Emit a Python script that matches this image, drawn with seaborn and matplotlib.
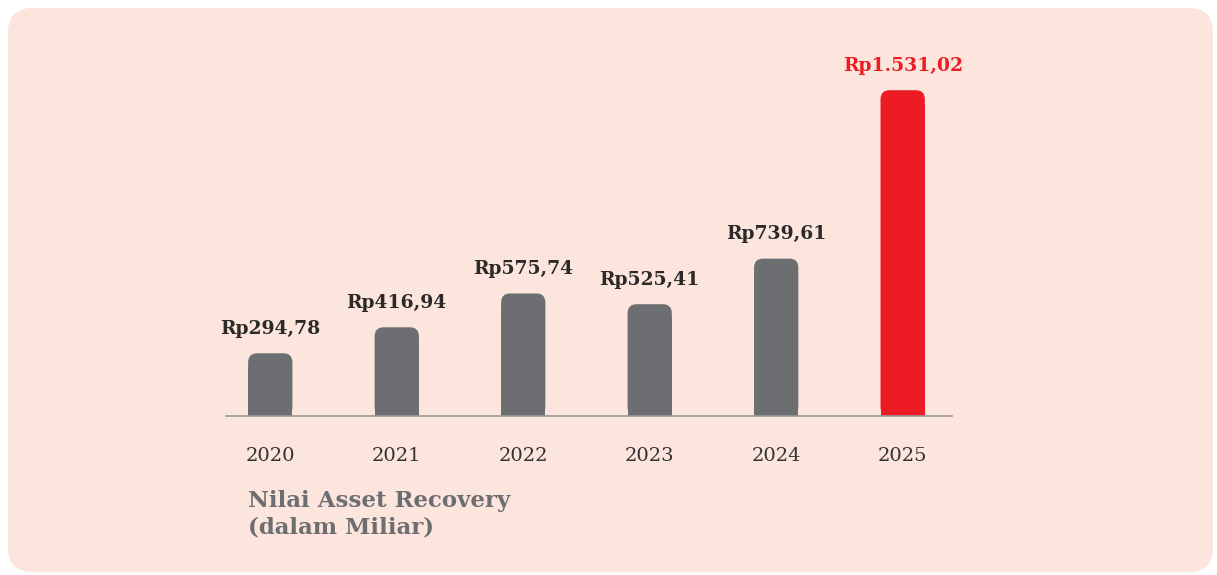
import matplotlib
matplotlib.use("Agg")
import matplotlib.pyplot as plt
from matplotlib.patches import FancyBboxPatch
import pandas as pd
import seaborn as sns

years = ["2020", "2021", "2022", "2023", "2024", "2025"]
values = [294.78, 416.94, 575.74, 525.41, 739.61, 1531.02]
labels = ["Rp294,78", "Rp416,94", "Rp575,74", "Rp525,41", "Rp739,61", "Rp1.531,02"]

gray = "#6d6e71"
red = "#ed1c24"
panel = "#fce5dc"
colors = [gray] * 5 + [red]

sns.set_theme(style="white")
plt.rcParams["font.family"] = ["DejaVu Serif"]

df = pd.DataFrame({"year": years, "value": values})

W, H = 1217, 575
fig = plt.figure(figsize=(W / 100, H / 100), dpi=100)
fig.patch.set_facecolor("white")

# peach rounded background panel (image rows 8..572)
bg = FancyBboxPatch((8 / W, 3 / H), (1213 - 8) / W, (572 - 8) / H,
                    boxstyle="round,pad=0,rounding_size=0.02",
                    mutation_aspect=W / H,
                    transform=fig.transFigure, facecolor=panel, edgecolor="none", zorder=-5)
fig.patches.append(bg)

ax = fig.add_axes([226 / W, 1 - 416 / H, (952 - 226) / W, (416 - 40) / H])
ax.set_facecolor("none")
ax.set_zorder(2)

sns.barplot(data=df, x="year", y="value", hue="year", palette=colors, legend=False,
            width=0.35, ax=ax, saturation=1, linewidth=0)

ax.set_xlim(-0.35, 5.39)
ymax = 1767
ax.set_ylim(0, ymax)

# round the bar tops
px_x = (5.39 + 0.35) / (952 - 226)
px_y = ymax / (416 - 40)
r_px = 9
for p, c in zip(list(ax.patches), colors):
    x0, w, h = p.get_x(), p.get_width(), p.get_height()
    rbox = FancyBboxPatch((x0, 0), w, h,
                          boxstyle=f"round,pad=0,rounding_size={r_px * px_x}",
                          mutation_aspect=px_y / px_x,
                          facecolor=c, edgecolor="none", linewidth=0, zorder=2)
    ax.add_patch(rbox)
    p.set_height(h - r_px * px_y * 1.5)
    p.set_zorder(2)

for i, (v, lab) in enumerate(zip(values, labels)):
    ax.annotate(lab, xy=(i, v), xytext=(0, 11), textcoords="offset points",
                ha="center", va="bottom", fontsize=13.5, fontweight="bold",
                color=red if i == 5 else "#2b2a29")

sns.despine(ax=ax, left=True, top=True, right=True)
ax.spines["bottom"].set_color("#9a9a9a")
ax.spines["bottom"].set_linewidth(1.2)
ax.set_yticks([])
ax.set_xlabel("")
ax.set_ylabel("")
ax.tick_params(axis="x", length=0, pad=22, labelsize=14, labelcolor="#333333")

fig.text(248 / W, 1 - 514 / H, "Nilai Asset Recovery\n(dalam Miliar)",
         ha="left", va="center", fontsize=16.5, fontweight="bold", color=gray,
         linespacing=1.25)

fig.savefig("out.png", dpi=100, facecolor="white")
